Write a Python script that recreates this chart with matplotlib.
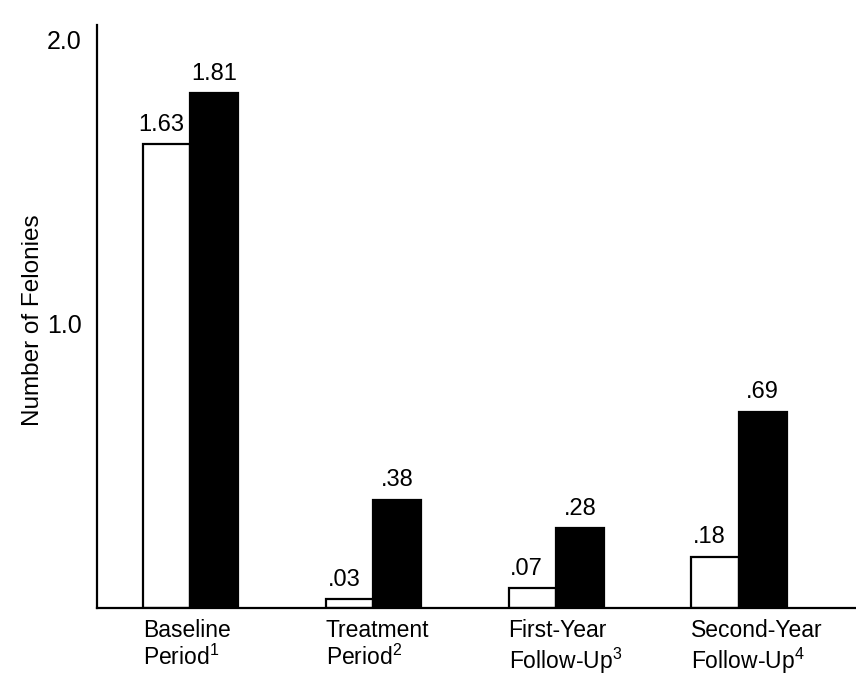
import numpy as np
import matplotlib
matplotlib.use("Agg")
import matplotlib.pyplot as plt

# === Dados ===
periodos = ["Baseline\nPeriod$^{1}$", "Treatment\nPeriod$^{2}$",
            "First-Year\nFollow-Up$^{3}$", "Second-Year\nFollow-Up$^{4}$"]
grupo_branco = [1.63, 0.03, 0.07, 0.18]
grupo_preto = [1.81, 0.38, 0.28, 0.69]
rotulos_branco = ["1.63", ".03", ".07", ".18"]
rotulos_preto = ["1.81", ".38", ".28", ".69"]

plt.rcParams["font.family"] = ["Liberation Sans", "DejaVu Sans"]
plt.rcParams["mathtext.fontset"] = "custom"
plt.rcParams["mathtext.rm"] = "Liberation Sans"

fig = plt.figure(figsize=(8.56, 6.79), dpi=100)
ax = fig.add_axes([97 / 856, 1 - 608 / 679, 1 - 97 / 856, 583 / 679])

x = np.arange(len(periodos))
w = 0.26

ax.bar(x - w / 2, grupo_branco, w, color="white", edgecolor="black", linewidth=1.6)
ax.bar(x + w / 2, grupo_preto, w, color="black", edgecolor="black", linewidth=1.6)

for xi, v, txt in zip(x - w / 2, grupo_branco, rotulos_branco):
    ax.text(xi - 0.03, v + 0.03, txt, ha="center", va="bottom", fontsize=17)
for xi, v, txt in zip(x + w / 2, grupo_preto, rotulos_preto):
    ax.text(xi, v + 0.03, txt, ha="center", va="bottom", fontsize=17)

ax.set_xlim(-0.51, 3.64)
ax.set_ylim(0, 2.05)
ax.set_yticks([1.0, 2.0])
ax.set_yticklabels(["1.0", "2.0"], fontsize=18)
ax.tick_params(axis="y", length=0, pad=11)

ax.set_xticks(x - w)
ax.set_xticklabels(periodos, fontsize=16.5, ha="left", multialignment="left",
                   linespacing=1.15)
ax.tick_params(axis="x", length=0, pad=8)

for s in ["top", "right"]:
    ax.spines[s].set_visible(False)
ax.spines["left"].set_linewidth(1.6)
ax.spines["bottom"].set_linewidth(1.6)

fig.text(33 / 856, 1 - 320 / 679, "Number of Felonies", rotation=90,
         ha="center", va="center", fontsize=17.5)

fig.savefig("out.png", dpi=100)
